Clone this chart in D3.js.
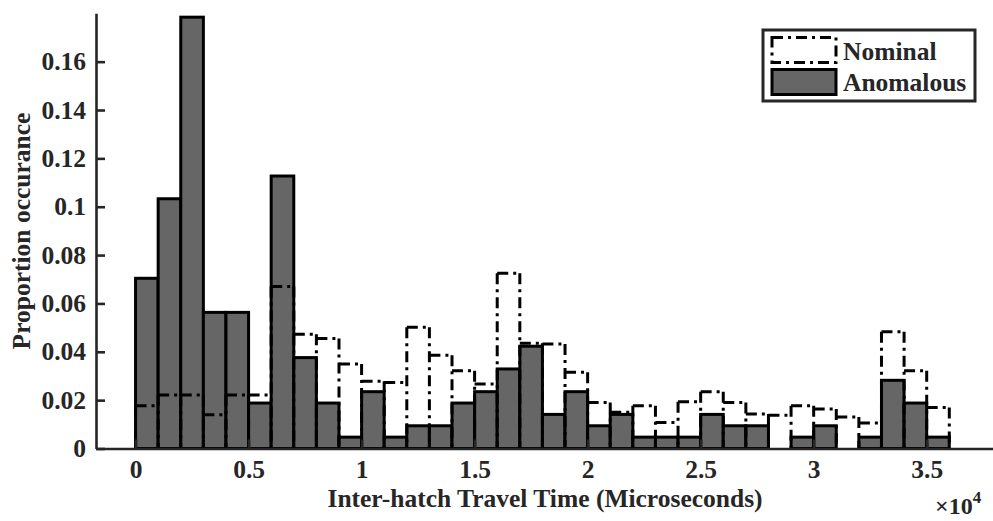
<!DOCTYPE html>
<html>
<head>
<meta charset="utf-8">
<script src="https://cdn.jsdelivr.net/npm/d3@7/dist/d3.min.js"></script>
<style>
  html, body { margin: 0; padding: 0; background: #fff; }
  svg text { font-family: "Liberation Serif", "Times New Roman", serif; font-weight: bold; fill: #262626; }
</style>
</head>
<body>
<div id="main"></div>
<script>
// bin edges are 1000 us wide, 0 .. 36000
const binWidth = 1000;
const binStarts = d3.range(0, 36000, 1000);

// proportion occurance
const nominal = [0.0177, 0.0221, 0.0221, 0.0140, 0.0221, 0.0221, 0.0670, 0.0473, 0.0455, 0.0349,
                 0.0278, 0.0273, 0.0501, 0.0386, 0.0322, 0.0267, 0.0725, 0.0435, 0.0432, 0.0315,
                 0.0190, 0.0150, 0.0177, 0.0108, 0.0193, 0.0235, 0.0190, 0.0143, 0.0138, 0.0177,
                 0.0163, 0.0130, 0.0105, 0.0483, 0.0322, 0.0170];
const anomalous = [0.0704, 0.1033, 0.1784, 0.0563, 0.0563, 0.0188, 0.1127, 0.0376, 0.0188, 0.0047,
                   0.0235, 0.0047, 0.0094, 0.0094, 0.0188, 0.0235, 0.0329, 0.0423, 0.0141, 0.0235,
                   0.0094, 0.0141, 0.0047, 0.0047, 0.0047, 0.0141, 0.0094, 0.0094, 0.0000, 0.0047,
                   0.0094, 0.0000, 0.0047, 0.0282, 0.0188, 0.0047];

const xTicks = [0, 5000, 10000, 15000, 20000, 25000, 30000, 35000];
const yTicks = [0, 0.02, 0.04, 0.06, 0.08, 0.1, 0.12, 0.14, 0.16];
const legendLabels = ['Nominal', 'Anomalous'];

const width = 993, height = 521;
const axisColor = '#262626';
const barGray = '#666666';
const dash = '11,5,3,5';
const fontSize = '25.5px';

const svg = d3.select('#main').append('svg')
    .attr('width', width)
    .attr('height', height);

const x = d3.scaleLinear().domain([-1750, 38000]).range([96, 994.5]);
const y = d3.scaleLinear().domain([0, 0.18]).range([448.5, 13.3]);

// anomalous bars (filled)
svg.append('g')
    .selectAll('rect')
    .data(anomalous)
    .join('rect')
    .attr('x', (d, i) => x(binStarts[i]))
    .attr('y', d => y(d))
    .attr('width', x(binWidth) - x(0))
    .attr('height', d => y(0) - y(d))
    .attr('fill', barGray)
    .attr('stroke', '#000')
    .attr('stroke-width', 3);

// nominal outline: tops + shared vertical edges, dash-dot
const nom = svg.append('g')
    .attr('fill', 'none')
    .attr('stroke', '#000')
    .attr('stroke-width', 3)
    .attr('stroke-dasharray', dash);

nom.selectAll('line.top')
    .data(nominal)
    .join('line')
    .attr('class', 'top')
    .attr('x1', (d, i) => x(binStarts[i]))
    .attr('x2', (d, i) => x(binStarts[i] + binWidth))
    .attr('y1', d => y(d))
    .attr('y2', d => y(d));

const edges = d3.range(nominal.length + 1).map(i => ({
    pos: i * binWidth,
    h: Math.max(nominal[i - 1] || 0, nominal[i] || 0)
}));
nom.selectAll('line.edge')
    .data(edges)
    .join('line')
    .attr('class', 'edge')
    .attr('x1', d => x(d.pos))
    .attr('x2', d => x(d.pos))
    .attr('y1', d => y(d.h))
    .attr('y2', y(0));

// axes, MATLAB style: ticks inside
const yAxis = d3.axisLeft(y)
    .tickValues(yTicks)
    .tickSizeInner(-9)
    .tickSizeOuter(0)
    .tickPadding(10)
    .tickFormat(d => String(+d.toFixed(2)));

const xAxis = d3.axisBottom(x)
    .tickValues(xTicks)
    .tickSizeInner(-9)
    .tickSizeOuter(0)
    .tickPadding(11)
    .tickFormat(d => String(d / 1e4));

function styleAxis(g) {
    g.select('.domain').attr('stroke', axisColor).attr('stroke-width', 2.6);
    g.selectAll('.tick line').attr('stroke', axisColor).attr('stroke-width', 2.6);
    g.selectAll('.tick text')
        .attr('fill', axisColor)
        .style('font-size', fontSize)
        .style('font-family', '"Liberation Serif", serif')
        .style('font-weight', 'bold');
}

svg.append('g')
    .attr('transform', `translate(0,${y(0)})`)
    .call(xAxis)
    .call(styleAxis);

svg.append('g')
    .attr('transform', `translate(${x(-1750)},0)`)
    .call(yAxis)
    .call(styleAxis);

// labels
svg.append('text')
    .attr('x', 545)
    .attr('y', 507)
    .attr('text-anchor', 'middle')
    .style('font-size', fontSize)
    .text('Inter-hatch Travel Time (Microseconds)');

svg.append('text')
    .attr('transform', 'translate(30,231) rotate(-90)')
    .attr('text-anchor', 'middle')
    .style('font-size', fontSize)
    .text('Proportion occurance');

const mult = svg.append('text')
    .attr('x', 935)
    .attr('y', 514)
    .style('font-size', '24px');
mult.append('tspan').text('\u00d710');
mult.append('tspan').attr('dy', -11).style('font-size', '17px').text('4');

// legend
const lg = svg.append('g').attr('transform', 'translate(763,30)');
lg.append('rect')
    .attr('width', 212)
    .attr('height', 71)
    .attr('fill', '#fff')
    .attr('stroke', axisColor)
    .attr('stroke-width', 3);

lg.append('rect')
    .attr('x', 9).attr('y', 7.5)
    .attr('width', 64).attr('height', 25)
    .attr('fill', 'none')
    .attr('stroke', '#000')
    .attr('stroke-width', 3)
    .attr('stroke-dasharray', dash);

lg.append('rect')
    .attr('x', 9).attr('y', 39.5)
    .attr('width', 64).attr('height', 25)
    .attr('fill', barGray)
    .attr('stroke', '#000')
    .attr('stroke-width', 3);

lg.selectAll('text.lab')
    .data(legendLabels)
    .join('text')
    .attr('class', 'lab')
    .attr('x', 80)
    .attr('y', (d, i) => 29.5 + i * 31.5)
    .style('font-size', fontSize)
    .attr('fill', '#000')
    .text(d => d);
</script>
</body>
</html>
